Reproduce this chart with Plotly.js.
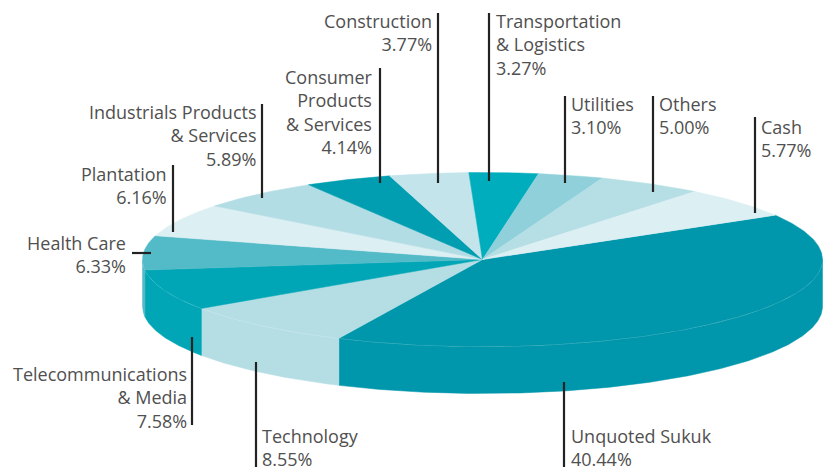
<!DOCTYPE html>
<html>
<head>
<meta charset="utf-8">
<script src="https://cdn.plot.ly/plotly-3.0.1.min.js"></script>
<style>html,body{margin:0;padding:0;background:#fff;}#chart{width:823px;height:467px;}</style>
</head>
<body>
<div id="chart"></div>
<script>
// ---- data ----
const categories = ["Unquoted Sukuk", "Technology", "Telecommunications & Media", "Health Care", "Plantation",
  "Industrials Products & Services", "Consumer Products & Services", "Construction",
  "Transportation & Logistics", "Utilities", "Others", "Cash"];
const values = [40.44, 8.55, 7.58, 6.33, 6.16, 5.89, 4.14, 3.77, 3.27, 3.10, 5.00, 5.77];
const labelLines = ["Unquoted Sukuk", "Technology", "Telecommunications<br>& Media", "Health Care", "Plantation",
  "Industrials Products<br>& Services", "Consumer<br>Products<br>& Services", "Construction",
  "Transportation<br>& Logistics", "Utilities", "Others", "Cash"];
const colors = ["#0096AB", "#B5DEE4", "#00A6B6", "#52BBC7", "#DCEFF3", "#B3DDE4", "#009EB0", "#C3E4EA",
  "#00ADBD", "#8FD0DA", "#B5DEE5", "#DCEFF3"];

// ---- geometry / layout config ----
const geo = {cx: 482.5, cy: 259.5, rx: 340, ry: 87, depth: 47, start: 30.6};
const labelPos = [
  {x: 570, y: 423, side: "left",  line: [564, 382, 564, 467]},
  {x: 261, y: 423, side: "left",  line: [256, 362, 256, 467]},
  {x: 188, y: 361, side: "right", line: [192, 337, 192, 425]},
  {x: 127, y: 230, side: "right", line: [132, 253, 151, 253]},
  {x: 168, y: 161, side: "right", line: [173, 165, 173, 232]},
  {x: 258, y: 99,  side: "right", line: [262, 104, 262, 198]},
  {x: 374, y: 64,  side: "right", line: [380, 68, 380, 183]},
  {x: 433, y: 8,   side: "right", line: [438, 13, 438, 183]},
  {x: 495, y: 8,   side: "left",  line: [489, 13, 489, 181]},
  {x: 570, y: 91,  side: "left",  line: [565, 96, 565, 183]},
  {x: 658, y: 91,  side: "left",  line: [653, 96, 653, 192]},
  {x: 760, y: 114, side: "left",  line: [755, 117, 755, 213]}
];

function pt(deg, dy) {
  const r = deg * Math.PI / 180;
  return [geo.cx + geo.rx * Math.cos(r), geo.cy - geo.ry * Math.sin(r) + (dy || 0)];
}
function arc(a1, a2, dy) {
  const n = Math.max(4, Math.ceil(Math.abs(a1 - a2) / 0.5));
  const out = [];
  for (let i = 0; i <= n; i++) out.push(pt(a1 + (a2 - a1) * i / n, dy));
  return out;
}

const total = values.reduce((a, b) => a + b, 0);
const sideTraces = [], topTraces = [];
let a = geo.start;
values.forEach((v, i) => {
  const span = v / total * 360;
  const a1 = a, a2 = a - span;
  // side wall: visible front half (angles between -180 and 0, modulo 360)
  for (let k = -1; k <= 1; k++) {
    const lo = Math.max(a2, -180 + 360 * k), hi = Math.min(a1, 0 + 360 * k);
    if (hi > lo) {
      const top = arc(hi, lo, 0), bot = arc(lo, hi, geo.depth);
      const pts = top.concat(bot);
      pts.push(top[0]);
      sideTraces.push({type: "scatter", mode: "lines", x: pts.map(p => p[0]), y: pts.map(p => p[1]),
        fill: "toself", fillcolor: colors[i], line: {width: 0.5, color: colors[i]}, hoverinfo: "skip", showlegend: false});
    }
  }
  const pts = [[geo.cx, geo.cy]].concat(arc(a1, a2, 0));
  pts.push([geo.cx, geo.cy]);
  topTraces.push({type: "scatter", mode: "lines", x: pts.map(p => p[0]), y: pts.map(p => p[1]),
    fill: "toself", fillcolor: colors[i], line: {width: 0.5, color: colors[i]}, hoverinfo: "text",
    text: categories[i] + ": " + v.toFixed(2) + "%", showlegend: false});
  a = a2;
});
// faint highlight along the front rim
const rim = arc(-180, 0, 0);
const rimTrace = {type: "scatter", mode: "lines", x: rim.map(p => p[0]), y: rim.map(p => p[1]),
  line: {width: 1, color: "rgba(255,255,255,0.35)"}, hoverinfo: "skip", showlegend: false};

const annotations = values.map((v, i) => ({
  x: labelPos[i].x, y: labelPos[i].y, xref: "x", yref: "y",
  xanchor: labelPos[i].side, yanchor: "top", align: labelPos[i].side,
  text: labelLines[i] + "<br>" + v.toFixed(2) + "%", showarrow: false,
  font: {family: "Open Sans, sans-serif", size: 18, color: "#505050"}, borderpad: 0
}));
const shapes = labelPos.map(p => ({type: "line", xref: "x", yref: "y",
  x0: p.line[0], y0: p.line[1], x1: p.line[2], y1: p.line[3], line: {color: "#222222", width: 2.2}}));

Plotly.newPlot("chart", sideTraces.concat([rimTrace], topTraces), {
  width: 823, height: 467, margin: {l: 0, r: 0, t: 0, b: 0},
  paper_bgcolor: "#ffffff", plot_bgcolor: "#ffffff",
  xaxis: {range: [0, 823], visible: false, fixedrange: true},
  yaxis: {range: [467, 0], visible: false, fixedrange: true},
  annotations: annotations, shapes: shapes, showlegend: false
}, {displayModeBar: false, staticPlot: true});
</script>
</body>
</html>
